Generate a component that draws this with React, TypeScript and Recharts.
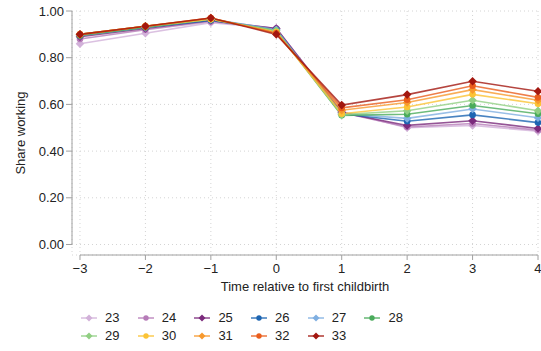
import * as React from "react";
import {
  LineChart,
  CartesianGrid,
  XAxis,
  YAxis,
  Legend,
  Line,
  ReferenceLine
} from "recharts";

// time relative to first childbirth
const times = [-3, -2, -1, 0, 1, 2, 3, 4];
const xTicks = [-3, -2, -1, 0, 1, 2, 3, 4];
const yTicks = [0, 0.2, 0.4, 0.6, 0.8, 1.0];

const ages = ["23", "24", "25", "26", "27", "28", "29", "30", "31", "32", "33"];
const colors = [
  "#d2b1d9",
  "#b67cb8",
  "#7b2a7c",
  "#1d65b2",
  "#7fafe1",
  "#4aab5b",
  "#91cf83",
  "#fbc335",
  "#f7992d",
  "#ea5e1d",
  "#a3170f"
];

// share working, one array per age at first birth
const s23 = [0.86, 0.905, 0.95, 0.925, 0.57, 0.5, 0.51, 0.485];
const s24 = [0.88, 0.92, 0.955, 0.925, 0.565, 0.503, 0.518, 0.49];
const s25 = [0.89, 0.925, 0.96, 0.925, 0.565, 0.51, 0.53, 0.497];
const s26 = [0.895, 0.93, 0.96, 0.92, 0.56, 0.528, 0.555, 0.522];
const s27 = [0.895, 0.93, 0.965, 0.92, 0.56, 0.54, 0.58, 0.543];
const s28 = [0.895, 0.93, 0.965, 0.915, 0.553, 0.558, 0.595, 0.56];
const s29 = [0.9, 0.935, 0.965, 0.915, 0.556, 0.573, 0.618, 0.573];
const s30 = [0.9, 0.935, 0.965, 0.91, 0.56, 0.589, 0.643, 0.603];
const s31 = [0.9, 0.935, 0.97, 0.905, 0.575, 0.608, 0.663, 0.618];
const s32 = [0.9, 0.935, 0.97, 0.905, 0.585, 0.62, 0.68, 0.63];
const s33 = [0.9, 0.935, 0.97, 0.9, 0.597, 0.642, 0.699, 0.656];

const seriesValues = [s23, s24, s25, s26, s27, s28, s29, s30, s31, s32, s33];
// diamonds for odd ages, circles for even ones
const shapes = ages.map((a) => (Number(a) % 2 === 1 ? "diamond" : "circle"));

const data = times.map((t, i) => {
  const row: any = { t };
  ages.forEach((a, k) => {
    row["a" + a] = seriesValues[k][i];
  });
  return row;
});

const FONT = "'Liberation Sans', Arial, Helvetica, sans-serif";

function Marker(props: { cx: number; cy: number; shape: string; color: string; size: number }) {
  const { cx, cy, shape, color, size } = props;
  if (shape === "diamond") {
    const d = size * 1.3;
    return (
      <polygon
        points={`${cx},${cy - d} ${cx + d},${cy} ${cx},${cy + d} ${cx - d},${cy}`}
        fill={color}
      />
    );
  }
  return <circle cx={cx} cy={cy} r={size} fill={color} />;
}

const dotFor = (shape: string, color: string) => (p: any) => (
  <g key={`dot-${p.dataKey}-${p.index}`}>
    <Marker cx={p.cx} cy={p.cy} shape={shape} color={color} size={3.3} />
  </g>
);

const fmtX = (v: number) => (v < 0 ? "\u2212" + Math.abs(v) : String(v));
const fmtY = (v: number) => v.toFixed(2);

function AgeLegend() {
  const rows = [ages.slice(0, 6), ages.slice(6)];
  return (
    <div style={{ paddingLeft: 81, height: 36, fontFamily: FONT, fontSize: 13, color: "#222" }}>
      {rows.map((row, r) => (
        <div key={r} style={{ display: "flex", height: 18, alignItems: "center" }}>
          {row.map((a) => {
            const k = ages.indexOf(a);
            return (
              <div key={a} style={{ width: 56.7, display: "flex", alignItems: "center" }}>
                <svg width={16} height={18} style={{ display: "block" }}>
                  <line x1={0} x2={16} y1={9} y2={9} stroke={colors[k]} strokeWidth={1.6} strokeOpacity={0.8} />
                  <Marker cx={8} cy={9} shape={shapes[k]} color={colors[k]} size={2.7} />
                </svg>
                <span style={{ marginLeft: 8, lineHeight: "18px" }}>{a}</span>
              </div>
            );
          })}
        </div>
      ))}
    </div>
  );
}

export default function App() {
  const axisColor = "#a0a0a0";
  const tickStyle = { fontSize: 13, fill: "#222", fontFamily: FONT };
  return (
    <div style={{ position: "absolute", left: 0, top: 0 }}>
      <LineChart
        width={541}
        height={351}
        data={data}
        margin={{ top: 11, right: 3, left: 0, bottom: 6 }}
      >
        <CartesianGrid stroke="#d4d4d4" strokeDasharray="1 3" />
        <XAxis
          dataKey="t"
          type="number"
          domain={[-3.122, 4]}
          ticks={xTicks}
          tickFormatter={fmtX}
          axisLine={false}
          tickLine={{ stroke: axisColor }}
          tickSize={5}
          tickMargin={4}
          tick={tickStyle}
          height={54}
          label={{
            value: "Time relative to first childbirth",
            position: "insideTop",
            offset: 27,
            style: { fontSize: 13, fill: "#222", fontFamily: FONT }
          }}
        />
        <YAxis
          type="number"
          domain={[-0.045, 1]}
          ticks={yTicks}
          tickFormatter={fmtY}
          axisLine={false}
          tickLine={{ stroke: axisColor }}
          tickSize={6}
          tickMargin={2}
          tick={tickStyle}
          width={72}
          label={{
            value: "Share working",
            angle: -90,
            position: "insideLeft",
            offset: 20,
            style: { textAnchor: "middle", fontSize: 13, fill: "#222", fontFamily: FONT }
          }}
        />
        <ReferenceLine
          segment={[{ x: -3, y: -0.045 }, { x: 4, y: -0.045 }]}
          stroke={axisColor}
          strokeWidth={1}
        />
        <ReferenceLine
          segment={[{ x: -3.122, y: 0 }, { x: -3.122, y: 1 }]}
          stroke={axisColor}
          strokeWidth={1}
        />
        <Legend verticalAlign="bottom" wrapperStyle={{ left: 0, width: 541 }} content={() => <AgeLegend />} />
        {ages.map((a, k) => (
          <Line
            key={a}
            dataKey={"a" + a}
            name={a}
            type="linear"
            stroke={colors[k]}
            strokeWidth={1.6}
            strokeOpacity={0.8}
            dot={dotFor(shapes[k], colors[k])}
            activeDot={false}
            isAnimationActive={false}
          />
        ))}
      </LineChart>
    </div>
  );
}
